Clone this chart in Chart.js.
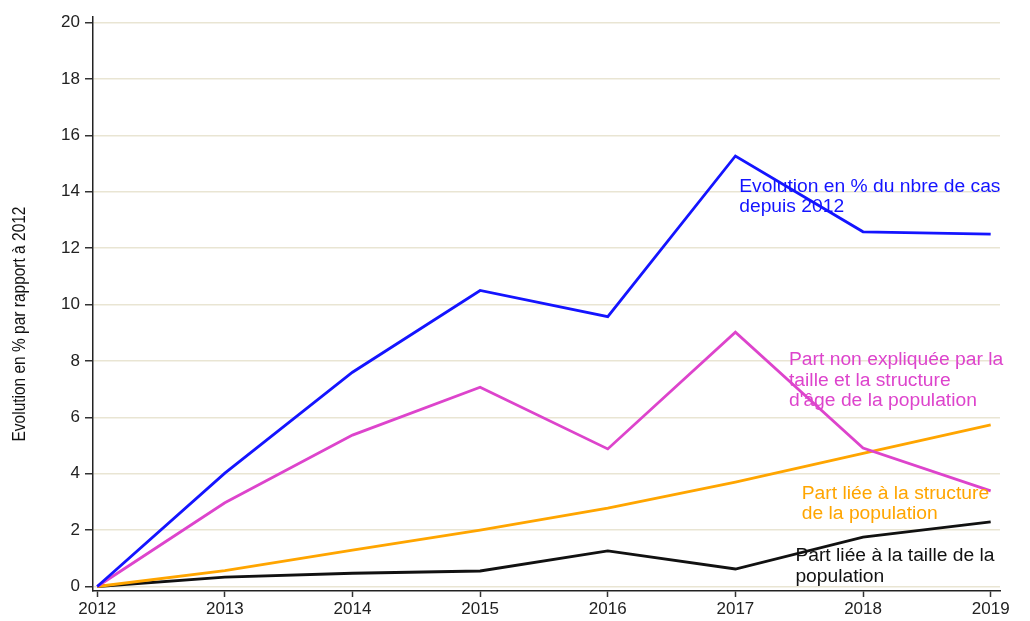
<!DOCTYPE html>
<html>
<head>
<meta charset="utf-8">
<script src="https://cdn.jsdelivr.net/npm/chart.js@4/dist/chart.umd.min.js"></script>
<style>
  html, body { margin: 0; padding: 0; background: #fff; }
  #wrap { width: 1030px; height: 621px; }
</style>
</head>
<body>
<div id="wrap"><canvas id="myChart" width="1030" height="621"></canvas></div>
<script>
const years = [2012, 2013, 2014, 2015, 2016, 2017, 2018, 2019];
const yTicks = [0, 2, 4, 6, 8, 10, 12, 14, 16, 18, 20];

const evolCas = [0, 4.02, 7.6, 10.5, 9.57, 15.27, 12.58, 12.5];
const partNonExpliquee = [0, 2.97, 5.37, 7.07, 4.88, 9.02, 4.91, 3.39];
const partStructure = [0, 0.56, 1.29, 2.0, 2.78, 3.7, 4.72, 5.73];
const partTaille = [0, 0.33, 0.47, 0.55, 1.26, 0.62, 1.75, 2.29];

const seriesNames = [
  "Evolution en % du nbre de cas depuis 2012",
  "Part non expliquée par la taille et la structure d'âge de la population",
  "Part liée à la structure de la population",
  "Part liée à la taille de la population",
];

const yTitle = "Evolution en % par rapport à 2012";

// étiquettes posées dans le graphique (en coordonnées des données)
const labelLines = [
  ["Evolution en % du nbre de cas", "depuis 2012"],
  ["Part non expliquée par la", "taille et la structure", "d'âge de la population"],
  ["Part liée à la structure", "de la population"],
  ["Part liée à la taille de la", "population"],
];
const labelX = [2017.03, 2017.42, 2017.52, 2017.47];
const labelY = [14.17, 8.03, 3.28, 1.08];

const colors = ["#1414ff", "#dd44cc", "#ffa500", "#111111"];

const toPoints = (arr) => arr.map((v, i) => ({ x: years[i], y: v }));

const data = {
  datasets: [evolCas, partNonExpliquee, partStructure, partTaille].map((arr, i) => ({
    label: seriesNames[i],
    data: toPoints(arr),
    borderColor: colors[i],
    backgroundColor: colors[i],
    borderWidth: 2.8,
    pointRadius: 0,
    tension: 0,
    fill: false,
  })),
};

// textes dans le graphique + titre de l'axe y (police étroite simulée)
const inlineLabels = {
  id: "inlineLabels",
  afterDatasetsDraw(chart) {
    const ctx = chart.ctx;
    const xs = chart.scales.x;
    const ys = chart.scales.y;
    ctx.save();
    ctx.font = "18px 'Liberation Sans', Arial, sans-serif";
    ctx.textAlign = "left";
    ctx.textBaseline = "middle";
    labelLines.forEach((lines, i) => {
      const px = xs.getPixelForValue(labelX[i]);
      const py = ys.getPixelForValue(labelY[i]);
      ctx.fillStyle = colors[i];
      lines.forEach((t, j) => {
        ctx.save();
        ctx.translate(px, py + j * 20.5);
        ctx.scale(1.07, 1);
        ctx.fillText(t, 0, 0);
        ctx.restore();
      });
    });
    ctx.restore();

    ctx.save();
    ctx.translate(20, (ys.top + ys.bottom) / 2 + 20);
    ctx.rotate(-Math.PI / 2);
    ctx.scale(0.86, 1);
    ctx.font = "18px 'Liberation Sans', Arial, sans-serif";
    ctx.fillStyle = "#111";
    ctx.textAlign = "center";
    ctx.textBaseline = "middle";
    ctx.fillText(yTitle, 0, 0);
    ctx.restore();
  },
};

const config = {
  type: "line",
  data: data,
  options: {
    responsive: false,
    animation: false,
    layout: { padding: { top: 17, right: 30, left: 0, bottom: 0 } },
    plugins: {
      legend: { display: false },
      tooltip: { enabled: false },
    },
    scales: {
      x: {
        type: "linear",
        min: 2011.967,
        max: 2019.073,
        afterBuildTicks: (axis) => { axis.ticks = years.map((v) => ({ value: v })); },
        afterFit: (axis) => { axis.height = 30; },
        ticks: {
          color: "#222",
          font: { family: "'Liberation Sans', Arial", size: 17 },
          padding: 2,
          maxRotation: 0,
          callback: (v) => String(v),
        },
        grid: { drawOnChartArea: false, tickLength: 6, tickColor: "#333", tickWidth: 1.5 },
        border: { color: "#222", width: 1.5 },
      },
      y: {
        min: -0.16,
        max: 20.2,
        afterBuildTicks: (axis) => { axis.ticks = yTicks.map((v) => ({ value: v })); },
        afterFit: (axis) => { axis.width = 93; },
        ticks: {
          color: "#222",
          font: { family: "'Liberation Sans', Arial", size: 17 },
          padding: 5,
        },
        grid: { color: "#e9e5d3", lineWidth: 1.5, tickLength: 8, tickColor: "#333", tickWidth: 1.5 },
        border: { color: "#222", width: 1.5 },
      },
    },
  },
  plugins: [inlineLabels],
};

const myChart = new Chart(document.getElementById("myChart"), config);
</script>
</body>
</html>
